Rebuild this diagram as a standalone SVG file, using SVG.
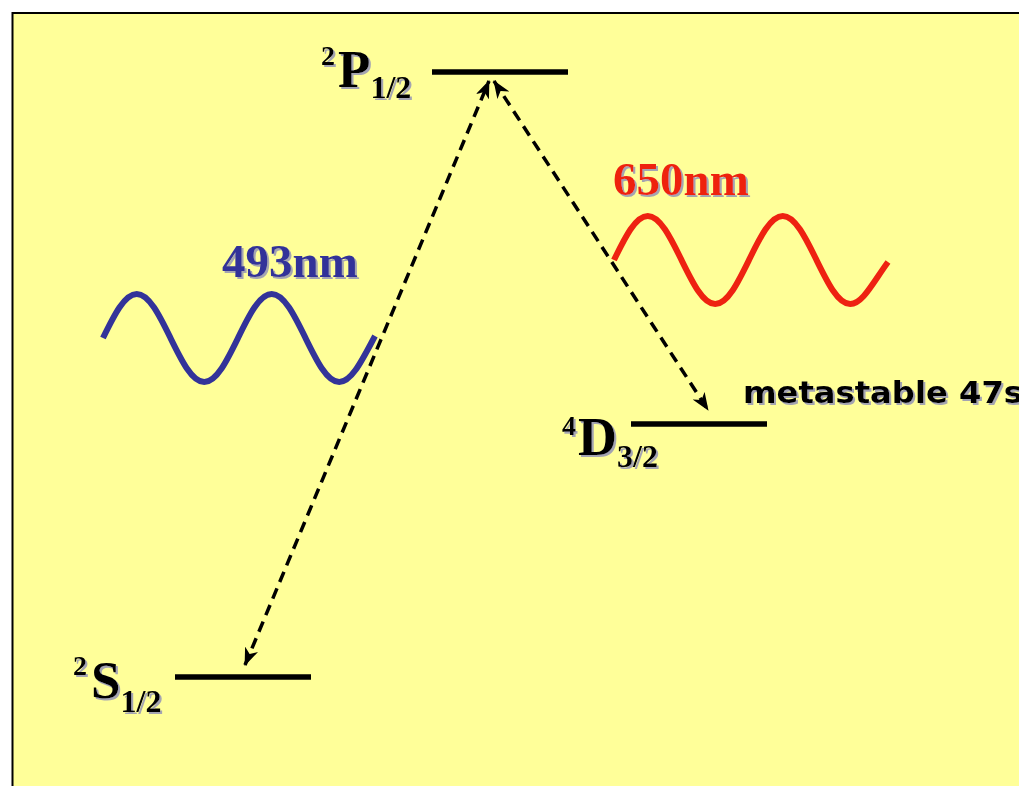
<svg xmlns="http://www.w3.org/2000/svg" width="1019" height="786" viewBox="0 0 1019 786">
<defs>
<filter id="sh" x="-10%" y="-10%" width="130%" height="140%">
<feDropShadow dx="2" dy="2" stdDeviation="0.6" flood-color="#9a9ab4" flood-opacity="0.9"/>
</filter>
<marker id="ah" viewBox="0 0 18 14" refX="17" refY="7" markerWidth="18" markerHeight="14" markerUnits="userSpaceOnUse" orient="auto-start-reverse">
<path d="M0,0 L18,7 L0,14 L5,7 Z" fill="#000"/>
</marker>
</defs>
<style>
.lvl{stroke:#000;stroke-width:5.5;}
.lab{font-family:"Liberation Serif","Times New Roman",serif;font-weight:bold;fill:#000;filter:url(#sh);}
.big{font-size:53px;}
.sup{font-size:28px;}
.sub{font-size:32px;}
.nm{font-family:"Liberation Serif","Times New Roman",serif;font-weight:bold;font-size:47px;filter:url(#sh);}
.conn{stroke:#000;stroke-width:3.5;stroke-dasharray:11 7;fill:none;}
.wave{fill:none;stroke-width:6;stroke-linecap:butt;}
</style>
<rect x="12.5" y="13" width="1020" height="790" fill="#FFFF99" stroke="#000" stroke-width="2"/>
<g id="connectors">
<line class="conn" x1="245" y1="665" x2="489" y2="81" marker-start="url(#ah)" marker-end="url(#ah)"/>
<line class="conn" x1="494" y1="81" x2="708" y2="410" marker-start="url(#ah)" marker-end="url(#ah)"/>
</g>
<g id="level-P">
<line class="lvl" x1="432" y1="72" x2="568" y2="72"/>
<text class="lab" x="321" y="87"><tspan class="sup" dy="-22">2</tspan><tspan class="big" dx="3" dy="22">P</tspan><tspan class="sub" dy="11">1/2</tspan></text>
</g>
<g id="level-D">
<line class="lvl" x1="631" y1="424" x2="767" y2="424"/>
<text class="lab" x="562" y="455"><tspan class="sup" dy="-20">4</tspan><tspan class="big" dx="2" dy="20" style="font-size:54px">D</tspan><tspan class="sub" dy="12">3/2</tspan></text>
<text class="lab" x="743" y="403" style="font-family:'DejaVu Sans',sans-serif;font-size:31px" textLength="280" lengthAdjust="spacingAndGlyphs">metastable 47s</text>
</g>
<g id="level-S">
<line class="lvl" x1="175" y1="677" x2="311" y2="677"/>
<text class="lab" x="73" y="698"><tspan class="sup" dy="-23">2</tspan><tspan class="big" dx="4" dy="23">S</tspan><tspan class="sub" dy="14">1/2</tspan></text>
</g>
<g id="wave-493">
<path class="wave" stroke="#333399" d="M103,338 C114,315.5 124.5,294 136.75,294 C149,294 159.5,315.5 170.5,338 C181.5,360.5 192,382 204.25,382 C216.5,382 227,360.5 238,338 C249,315.5 259.5,294 271.75,294 C284,294 294.5,315.5 305.5,338 C316.5,360.5 327,382 339.25,382 C351.5,382 362,360.5 375,336"/>
<text class="nm" x="222" y="277" fill="#333399">493nm</text>
</g>
<g id="wave-650">
<path class="wave" stroke="#EE2211" d="M614,260 C625,237.5 635.5,216 647.75,216 C660,216 670.5,237.5 681.5,260 C692.5,282.5 703,304 715.25,304 C727.5,304 738,282.5 749,260 C760,237.5 770.5,216 782.75,216 C795,216 805.5,237.5 816.5,260 C827.5,282.5 838,304 850.25,304 C862.5,304 873,282.5 888,262"/>
<text class="nm" x="613" y="195" fill="#EE2211">650nm</text>
</g>
</svg>
